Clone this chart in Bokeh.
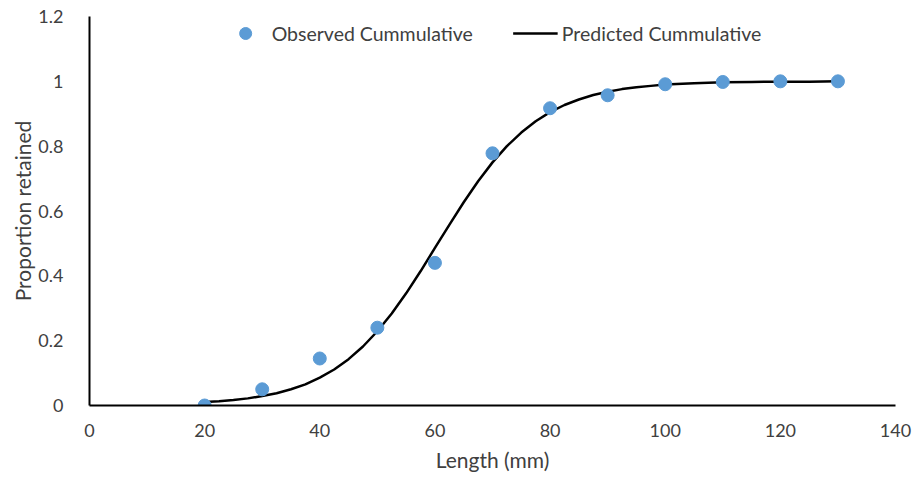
from bokeh.plotting import figure
from bokeh.models import Range1d, FixedTicker, Legend, LegendItem
from bokeh.embed import file_html
from bokeh.resources import INLINE

# Observed cumulative retention by length class
obs_length = [20, 30, 40, 50, 60, 70, 80, 90, 100, 110, 120, 130]
obs_prop = [0.0, 0.05, 0.145, 0.24, 0.44, 0.778, 0.917, 0.957, 0.991, 0.998, 1.0, 1.0]

# Predicted (fitted) cumulative retention curve
pred_length = [20, 22.5, 25, 27.5, 30, 32.5, 35, 37.5, 40, 42.5, 45, 47.5, 50, 52.5,
               55, 57.5, 60, 62.5, 65, 67.5, 70, 72.5, 75, 77.5, 80, 82.5, 85, 87.5,
               90, 92.5, 95, 97.5, 100, 105, 110, 115, 120, 125, 130]
pred_prop = [0.011, 0.013, 0.017, 0.022, 0.029, 0.038, 0.050, 0.065, 0.086, 0.111,
             0.143, 0.182, 0.229, 0.284, 0.346, 0.414, 0.486, 0.557, 0.627, 0.692,
             0.750, 0.800, 0.842, 0.877, 0.905, 0.927, 0.944, 0.958, 0.968, 0.976,
             0.982, 0.986, 0.990, 0.994, 0.997, 0.998, 0.999, 0.999, 1.0]

x_ticks = [0, 20, 40, 60, 80, 100, 120, 140]
y_ticks = [0, 0.2, 0.4, 0.6, 0.8, 1, 1.2]
y_tick_labels = ["0", "0.2", "0.4", "0.6", "0.8", "1", "1.2"]

FONT = "Lato"
TXT = "#404040"

p = figure(width=918, height=481, output_backend="svg", toolbar_location=None,
           x_range=Range1d(0, 140), y_range=Range1d(0, 1.2),
           min_border_left=89, min_border_right=23, min_border_top=16,
           min_border_bottom=76)
p.outline_line_color = None
p.grid.visible = False
p.background_fill_color = "white"
p.border_fill_color = "white"

line_r = p.line(pred_length, pred_prop, line_color="black", line_width=2.5)
pts_r = p.scatter(obs_length, obs_prop, size=13, fill_color="#5B9BD5",
                  line_color="#5B9BD5")

for ax in (p.xaxis[0], p.yaxis[0]):
    ax.axis_line_color = "black"
    ax.axis_line_width = 2
    ax.major_tick_line_color = None
    ax.minor_tick_line_color = None
    ax.major_label_text_font = FONT
    ax.major_label_text_font_size = "18px"
    ax.major_label_text_color = TXT
    ax.axis_label_text_font = FONT
    ax.axis_label_text_font_size = "21px"
    ax.axis_label_text_font_style = "normal"
    ax.axis_label_text_color = TXT

p.xaxis.ticker = FixedTicker(ticks=x_ticks)
p.yaxis.ticker = FixedTicker(ticks=y_ticks)
p.yaxis.major_label_overrides = {t: s for t, s in zip(y_ticks, y_tick_labels)}
p.xaxis.major_label_standoff = 12
p.yaxis.major_label_standoff = 20
p.xaxis.axis_label = "Length (mm)"
p.yaxis.axis_label = "Proportion retained"
p.xaxis.axis_label_standoff = 7
p.yaxis.axis_label_standoff = 0

legend = Legend(items=[LegendItem(label="Observed Cummulative", renderers=[pts_r]),
                       LegendItem(label="Predicted Cummulative", renderers=[line_r])],
                orientation="horizontal", location="top_center",
                border_line_color=None, background_fill_alpha=0,
                label_text_font=FONT, label_text_font_size="19.5px",
                label_text_color=TXT, glyph_width=45, glyph_height=30,
                label_standoff=4, spacing=40, padding=0, margin=2)
p.add_layout(legend)

open("out.html", "w").write(file_html(p, INLINE))
